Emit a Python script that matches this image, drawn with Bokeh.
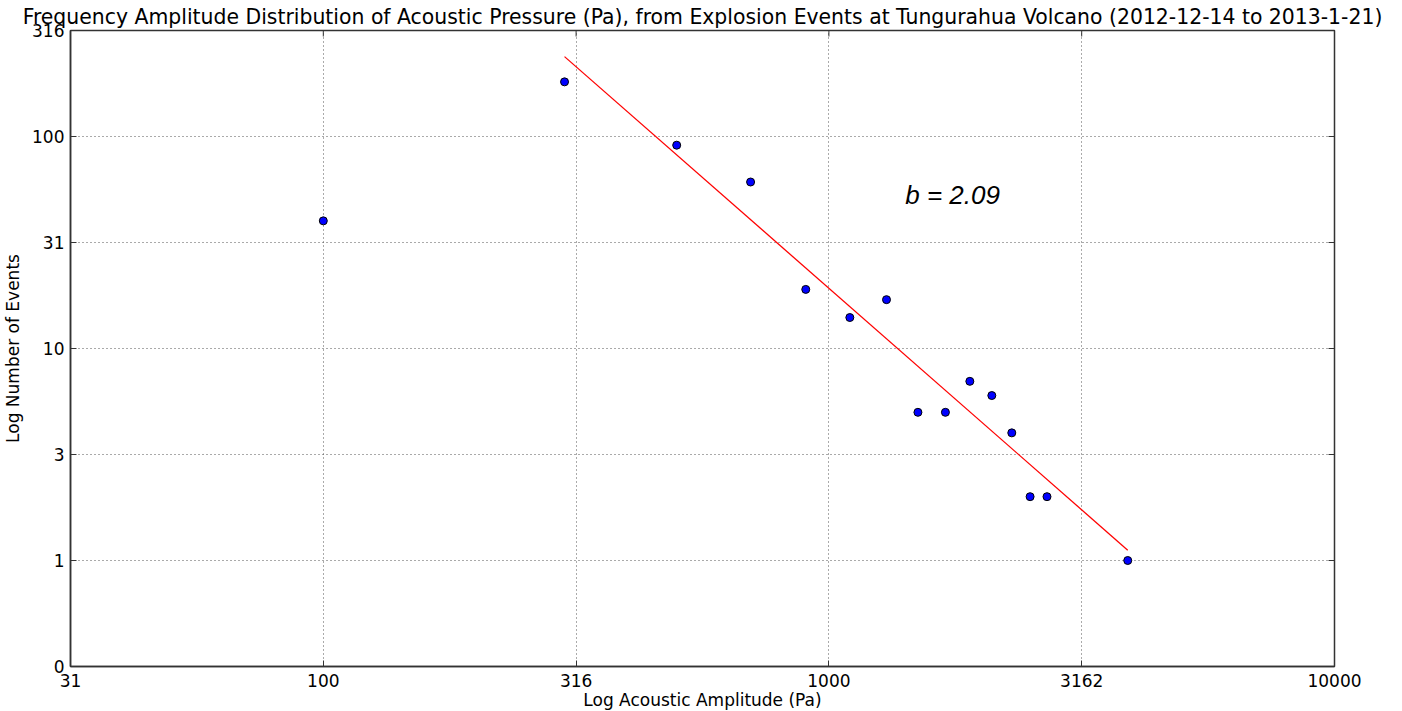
import numpy as np
from bokeh.plotting import figure
from bokeh.models import FixedTicker, Label, Range1d, ColumnDataSource
from bokeh.embed import file_html
from bokeh.resources import INLINE

# ---- data ----
amplitude_pa = [100, 300, 500, 700, 900, 1100, 1300, 1500, 1700, 1900, 2100, 2300, 2500, 2700, 3900]
event_counts = [40, 181, 91, 61, 19, 14, 17, 5, 5, 7, 6, 4, 2, 2, 1]

fit_b = 2.09          # slope of log-log fit
fit_log_a = 7.554     # intercept of log10(N) = a - b*log10(A)
fit_amp_span = [300, 3900]

x_tick_values = [10 ** 1.5, 100.0, 10 ** 2.5, 1000.0, 10 ** 3.5, 10000.0]
x_tick_labels = ["31", "100", "316", "1000", "3162", "10000"]
y_tick_values = [10 ** -0.5, 1.0, 10 ** 0.5, 10.0, 10 ** 1.5, 100.0, 10 ** 2.5]
y_tick_labels = ["0", "1", "3", "10", "31", "100", "316"]

title_text = ("Frequency Amplitude Distribution of Acoustic Pressure (Pa), "
              "from Explosion Events at Tungurahua Volcano (2012-12-14 to 2013-1-21)")

FONT = "DejaVu Sans"
AXC = "#333333"

x_range = Range1d(x_tick_values[0], x_tick_values[-1])
y_range = Range1d(y_tick_values[0], y_tick_values[-1])

p = figure(
    x_axis_type="log", y_axis_type="log",
    x_range=x_range, y_range=y_range,
    frame_width=1264, frame_height=636,
    min_border_left=62, min_border_top=0, min_border_right=52, min_border_bottom=0,
    output_backend="svg", toolbar_location=None,
    title=title_text,
)
p.title.text_font = FONT
p.title.text_font_size = "20.4px"
p.title.text_font_style = "normal"
p.title.align = "center"
p.title.standoff = 4
p.title.text_color = "#000000"

for ax, ticks, labels, lbl in [
    (p.xaxis[0], x_tick_values, x_tick_labels, "Log Acoustic Amplitude (Pa)"),
    (p.yaxis[0], y_tick_values, y_tick_labels, "Log Number of Events"),
]:
    ax.ticker = FixedTicker(ticks=ticks, minor_ticks=[])
    ax.major_label_overrides = {t: l for t, l in zip(ticks, labels)}
    ax.axis_label = lbl
    ax.axis_label_text_font = FONT
    ax.axis_label_text_font_size = "17px"
    ax.axis_label_text_font_style = "normal"
    ax.axis_label_text_color = "#000000"
    ax.major_label_text_font = FONT
    ax.major_label_text_font_size = "17px"
    ax.major_label_text_color = "#000000"
    ax.major_tick_in = 6
    ax.major_tick_out = 0
    ax.minor_tick_in = 0
    ax.minor_tick_out = 0
    ax.axis_line_color = AXC
    ax.axis_line_width = 1.5
    ax.major_tick_line_color = AXC

p.xaxis[0].major_label_standoff = 7
p.xaxis[0].axis_label_standoff = 0
p.yaxis[0].major_label_standoff = 6
p.yaxis[0].axis_label_standoff = 6

# box outline (top / right edges)
p.outline_line_color = AXC
p.outline_line_width = 1.5

# inward ticks on top and right edges (dash markers clipped by the frame)
top_y = [y_range.end] * len(x_tick_values)
right_x = [x_range.end] * len(y_tick_values)
p.scatter(x_tick_values, top_y, marker="dash", angle=np.pi / 2, size=12,
          line_color=AXC, line_width=1)
p.scatter(right_x, y_tick_values, marker="dash", size=12,
          line_color=AXC, line_width=1)

p.xgrid.grid_line_color = "#555555"
p.ygrid.grid_line_color = "#555555"
p.xgrid.grid_line_dash = "1 3"
p.ygrid.grid_line_dash = "1 3"
p.xgrid.grid_line_width = 1
p.ygrid.grid_line_width = 1

# fit line
fit_x = np.array(fit_amp_span, dtype=float)
fit_y = 10 ** (fit_log_a - fit_b * np.log10(fit_x))
p.line(fit_x, fit_y, line_color="#ff0000", line_width=1.3)

src = ColumnDataSource(dict(x=amplitude_pa, y=event_counts))
p.scatter("x", "y", source=src, size=8, fill_color="#0000ff", line_color="#000000", line_width=1)

p.add_layout(Label(
    x=1416, y=53, text=f"b = {fit_b:.2f}", text_font="Liberation Sans",
    text_font_size="26px", text_font_style="italic", text_baseline="middle",
    text_color="#000000",
))

open("out.html", "w").write(file_html(p, INLINE))
